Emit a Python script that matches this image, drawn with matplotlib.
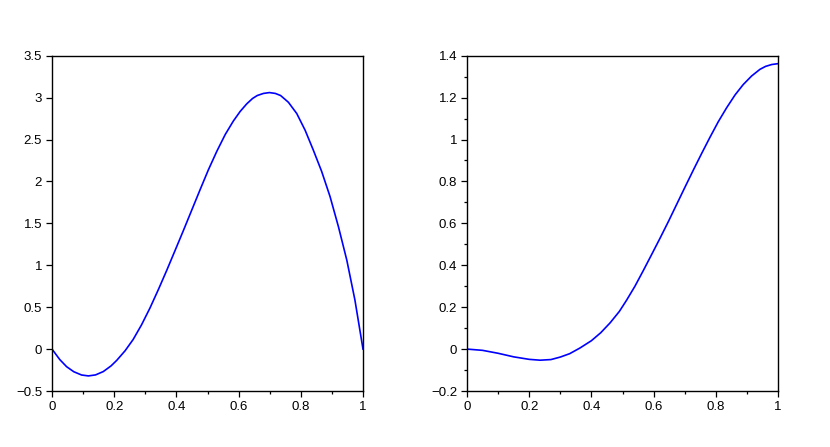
import matplotlib
matplotlib.use("Agg")
import matplotlib.pyplot as plt
from matplotlib.ticker import MultipleLocator

# values
x_left = [0.0, 0.025, 0.047, 0.07, 0.095, 0.117, 0.14, 0.165, 0.19, 0.208,
          0.235, 0.261, 0.288, 0.315, 0.342, 0.369, 0.395, 0.422, 0.449, 0.476,
          0.503, 0.530, 0.557, 0.583, 0.605, 0.626, 0.645, 0.66, 0.68, 0.699,
          0.718, 0.735, 0.76, 0.787, 0.814, 0.84, 0.867, 0.894, 0.921, 0.948,
          0.974, 1.0]
y_left = [0.0, -0.125, -0.21, -0.27, -0.309, -0.32, -0.308, -0.268, -0.2, -0.135,
          -0.02, 0.115, 0.29, 0.49, 0.71, 0.94, 1.17, 1.41, 1.655, 1.90,
          2.14, 2.36, 2.56, 2.72, 2.835, 2.925, 2.99, 3.025, 3.05, 3.06,
          3.05, 3.025, 2.945, 2.81, 2.61, 2.376, 2.12, 1.82, 1.46, 1.06,
          0.586, 0.0]

x_right = [0.0, 0.05, 0.1, 0.15, 0.2, 0.235, 0.27, 0.3, 0.33, 0.363,
           0.4, 0.43, 0.46, 0.49, 0.513, 0.54, 0.567, 0.595, 0.621, 0.648,
           0.674, 0.7, 0.728, 0.755, 0.781, 0.808, 0.835, 0.862, 0.888, 0.915,
           0.942, 0.96, 0.98, 1.0]
y_right = [0.0, -0.006, -0.02, -0.037, -0.049, -0.053, -0.05, -0.038, -0.022, 0.005,
           0.04, 0.078, 0.125, 0.18, 0.233, 0.30, 0.375, 0.455, 0.53, 0.61,
           0.69, 0.77, 0.855, 0.935, 1.01, 1.085, 1.152, 1.213, 1.262, 1.303,
           1.335, 1.349, 1.358, 1.362]

plt.rcParams["font.family"] = ["Liberation Sans", "DejaVu Sans"]
plt.rcParams["font.size"] = 9.5

fig = plt.figure(figsize=(8.3, 4.47), dpi=100)
ax1 = fig.add_axes([52 / 830, 1 - 391 / 447, 311 / 830, 335.3 / 447])
ax2 = fig.add_axes([467 / 830, 1 - 391 / 447, 311 / 830, 335.3 / 447])

ax1.plot(x_left, y_left, color="#0000ff", linewidth=1.2)
ax1.set_xlim(0, 1)
ax1.set_ylim(-0.5, 3.5)
ax1.set_yticks([-0.5, 0, 0.5, 1, 1.5, 2, 2.5, 3, 3.5])
ax1.set_yticklabels(["\u22120.5", "0", "0.5", "1", "1.5", "2", "2.5", "3", "3.5"])

ax2.plot(x_right, y_right, color="#0000ff", linewidth=1.2)
ax2.set_xlim(0, 1)
ax2.set_ylim(-0.2, 1.4)
ax2.set_yticks([-0.2, 0, 0.2, 0.4, 0.6, 0.8, 1, 1.2, 1.4])
ax2.set_yticklabels(["\u22120.2", "0", "0.2", "0.4", "0.6", "0.8", "1", "1.2", "1.4"])
ax2.yaxis.set_minor_locator(MultipleLocator(0.1))

for ax in (ax1, ax2):
    ax.set_xticks([0, 0.2, 0.4, 0.6, 0.8, 1])
    ax.set_xticklabels(["0", "0.2", "0.4", "0.6", "0.8", "1"])
    ax.xaxis.set_minor_locator(MultipleLocator(0.1))
    ax.tick_params(which="major", direction="out", length=4.2, width=0.9, pad=3)
    ax.tick_params(which="minor", direction="out", length=2.2, width=0.9)
    for s in ax.spines.values():
        s.set_linewidth(1.0)
        s.set_color("black")

fig.savefig("out.png", dpi=100)
